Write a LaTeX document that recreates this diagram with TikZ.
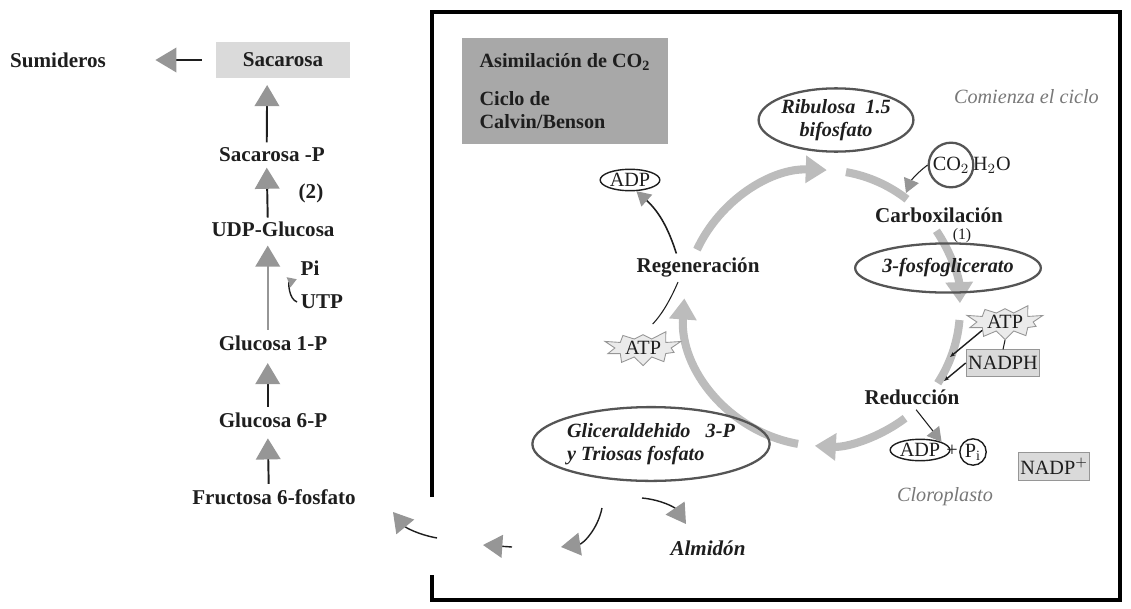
\documentclass[tikz,border=0pt]{standalone}
\usepackage{fontspec}
\setmainfont{Liberation Serif}
\usetikzlibrary{arrows.meta,shapes.geometric,shapes.symbols}
\definecolor{cEdge}{RGB}{30,30,30}
\definecolor{cHead}{RGB}{150,150,150}
\definecolor{cArc}{RGB}{188,188,188}
\definecolor{cOval}{RGB}{85,85,85}
\definecolor{cBox}{RGB}{218,218,218}
\definecolor{cTitle}{RGB}{168,168,168}
\definecolor{cNote}{RGB}{120,120,120}
\definecolor{cBurst}{RGB}{235,235,235}

\begin{document}
\begin{tikzpicture}[
  x=0.02cm, y=-0.02cm, color=cEdge,
  lbl/.style   ={font=\fontsize{12}{14}\selectfont\bfseries, inner sep=2pt},
  chem/.style  ={font=\fontsize{11.5}{12}\selectfont, inner sep=1pt},
  note/.style  ={font=\fontsize{11.5}{13}\selectfont\itshape, color=cNote},
  oval/.style  ={ellipse, draw=cOval, line width=1.3pt, inner sep=0pt,
                 font=\fontsize{11.5}{13}\selectfont\bfseries\itshape},
  greybox/.style={draw=cHead, fill=cBox, line width=0.5pt},
  burst/.style ={starburst, starburst points=10, starburst point height=7pt,
                 random starburst=3, draw=cHead, fill=cBurst, line width=0.5pt,
                 inner sep=0pt, font=\fontsize{11.5}{12}\selectfont},
  up/.style    ={-{Triangle[length=12pt,width=14pt,color=cHead]}, line width=1.1pt},
  cyc/.style   ={draw=cArc, line width=4.6pt},
  cycarr/.style={cyc, -{Triangle[length=12pt,width=15pt]}},
  smallarr/.style={-{Triangle[length=8pt,width=9pt,color=cHead]}, line width=0.8pt},
  frame/.style ={draw=black, line width=2.8pt},
]
\useasboundingbox (0,0) rectangle (1131,608);

\def\cx{822}\def\cy{308}\def\R{138}

% ----- sucrose synthesis column -----------------------------------------
\node[lbl] (sum)  at (58,60)   {Sumideros};
\node[lbl,greybox,draw=none,minimum width=76pt,minimum height=20pt] (sac) at (283,60) {Sacarosa};
\node[lbl] (sacp) at (272,155) {Sacarosa -P};
\node[lbl] (udp)  at (273,229) {UDP-Glucosa};
\node[lbl] (gl1)  at (273,343) {Glucosa 1-P};
\node[lbl] (gl6)  at (273,420) {Glucosa 6-P};
\node[lbl] (f6p)  at (274,497) {Fructosa 6-fosfato};
\node[lbl] (two)  at (311,193) {(2)};
\node[lbl] (pi)   at (310,268) {Pi};
\node[lbl] (utp)  at (322,302) {UTP};

\draw[up,shorten <=8pt,shorten >=26pt] (sac.west) -- (sum.east);
\draw[up,shorten <=1pt,shorten >=4pt] ([xshift=-3pt]sacp.north) -- ([xshift=-9pt]sac.south);
\draw[up,shorten <=0pt,shorten >=1pt] ([xshift=-3pt]udp.north) -- ([xshift=-3pt]sacp.south);
\draw[up,draw=cHead,shorten <=1pt,shorten >=3pt] ([xshift=-3pt]gl1.north) -- ([xshift=-3pt]udp.south);
\draw[up,shorten <=1pt,shorten >=5pt] ([xshift=-3pt]gl6.north) -- ([xshift=-3pt]gl1.south);
\draw[up,shorten <=1pt,shorten >=4pt] ([xshift=-3pt]f6p.north) -- ([xshift=-3pt]gl6.south);
\draw[smallarr,-{Triangle[length=5pt,width=6pt,color=cHead]}] (utp.west) to[bend left=70] (pi.south west);

% ----- chloroplast frame (open where the triose leaves) -----------------
\draw[frame] (432,497) -- (432,12) -- (1120,12) -- (1120,600) -- (432,600) -- (432,575);

\node[lbl,fill=cTitle,align=left,minimum width=117pt,minimum height=60pt,
      font=\fontsize{11.5}{13}\selectfont\bfseries] (title) at (565,91)
      {Asimilación de CO$_{\mathbf 2}$\\[9pt] Ciclo de\\ Calvin/Benson};
\node[note,anchor=east] (start) at (1105,97) {Comienza el ciclo};
\node[note] (cloro) at (945,497) {Cloroplasto};

% ----- the cycle ---------------------------------------------------------
\draw[cycarr] (\cx,\cy) ++(205:\R) arc[start angle=205,end angle=272,radius=\R];
\draw[cyc]    (\cx,\cy) ++(280:\R) arc[start angle=280,end angle=308,radius=\R];
\draw[cycarr] (\cx,\cy) ++(326:\R) arc[start angle=326,end angle=358,radius=\R];
\draw[cyc]    (\cx,\cy) ++(365:\R) arc[start angle=365,end angle=393,radius=\R];
\draw[cycarr] (\cx,\cy) ++(53:\R)  arc[start angle=53,end angle=93,radius=\R];
\draw[cycarr] (\cx,\cy) ++(100:\R) arc[start angle=100,end angle=184,radius=\R];

\node[oval,minimum width=85pt,minimum height=36pt,align=center] (rib) at (836,120)
      {Ribulosa~~1.5\\ bifosfato};
\node[oval,minimum width=85pt,minimum height=28pt] (pga) at (948,268) {3-fosfoglicerato};
\node[oval,minimum width=135pt,minimum height=42pt,align=left] (gap) at (651,444)
      {Gliceraldehido~~~3-P\\ y Triosas fosfato};

\node[lbl] (carb)  at (939,215) {Carboxilación};
\node[lbl] (red)   at (912,397) {Reducción};
\node[lbl] (regen) at (698,267) {Regeneración};
\node[chem,font=\fontsize{9}{10}\selectfont] (one) at (962,236) {(1)};

% ----- carboxylation: CO2 enters -----------------------------------------
\node[chem,circle,draw=cOval,line width=1.3pt,minimum size=19pt] (co2) at (951,165) {CO$_2$};
\node[chem,anchor=west] (h2o) at (971,165) {H$_2$O};
\coordinate (co2in) at (906,193);
\draw[smallarr,line width=0.6pt] (co2.west) to[bend right=15] (co2in);

% ----- reduction: ATP and NADPH ------------------------------------------
\node[burst,minimum width=46pt,minimum height=16pt] (atp2) at (1005,322) {ATP};
\node[chem,greybox,minimum width=42pt,minimum height=15pt] (nadph) at (1003,363) {NADPH};
\draw[line width=0.6pt] (atp2.south) -- (nadph.north);
\coordinate (rin1) at (950,357);
\coordinate (rin2) at (944,381);
\draw[-{Stealth[length=3pt]},line width=0.8pt] (atp2.200) -- (rin1);
\draw[-{Stealth[length=3pt]},line width=0.8pt] (nadph.west) -- (rin2);

\node[chem,ellipse,draw,line width=0.8pt,inner sep=0.5pt,minimum width=27pt] (adp2) at (920,450) {ADP};
\node[chem] (plus) at (952,451) {+};
\node[chem,circle,draw,line width=0.8pt,inner sep=0.5pt,minimum size=15pt] (pii) at (973,452) {P$_{\mathrm i}$};
\node[chem,greybox,minimum width=40pt,minimum height=16pt] (nadpp) at (1054,466) {NADP$^+$};
\draw[smallarr,line width=0.6pt,shorten <=1pt] (red.-75) -- (adp2.north east);

% ----- regeneration: ATP in, ADP out -------------------------------------
\node[chem,ellipse,draw,line width=0.8pt,inner sep=0.5pt,minimum width=27pt] (adp1) at (630,180) {ADP};
\node[burst,minimum width=46pt,minimum height=18pt] (atp1) at (643,348) {ATP};
\draw[smallarr,line width=0.9pt] (regen.148) to[bend right=15] (adp1.-60);
\draw[line width=0.6pt,shorten >=8pt,shorten <=1pt] (regen.215) to[bend left=10] (atp1.north);

% ----- triose phosphate leaves towards sucrose and starch ----------------
\node[lbl,font=\fontsize{12}{14}\selectfont\bfseries\itshape] (almidon) at (708,548) {Almidón};
\coordinate (t0) at (602,508);
\coordinate (t1) at (561,547);
\coordinate (t2) at (512,547);
\coordinate (t3) at (483,545);
\coordinate (t4) at (437,538);
\coordinate (t5) at (393,512);
\coordinate (s0) at (642,498);
\coordinate (s1) at (686,524);
\draw[smallarr,-{Triangle[length=11pt,width=13pt,color=cHead]}] (t0) to[bend left=35] (t1);
\draw[smallarr,-{Triangle[length=11pt,width=13pt,color=cHead]}] (t2) -- (t3);
\draw[smallarr,-{Triangle[length=11pt,width=13pt,color=cHead]}] (t4) to[bend left=20] (t5);
\draw[smallarr,-{Triangle[length=11pt,width=13pt,color=cHead]}] (s0) to[bend left=25] (s1);

\end{tikzpicture}
\end{document}
